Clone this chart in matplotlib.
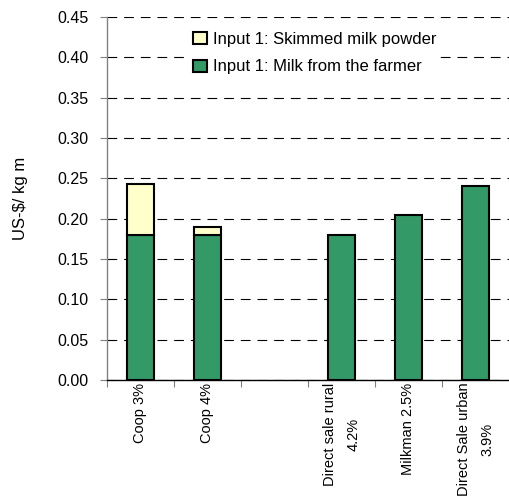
#!/usr/bin/env python3

import numpy as np
import matplotlib
matplotlib.use("Agg")
import matplotlib.pyplot as plt

# data
categories = ["Coop 3%", "Coop 4%", "", "Direct sale rural\n4.2%",
              "Milkman 2.5%", "Direct Sale urban\n3.9%"]
milk_farmer = [0.180, 0.180, 0.0, 0.180, 0.204, 0.240]
milk_powder = [0.063, 0.010, 0.0, 0.0, 0.0, 0.0]
yticks = [0.00, 0.05, 0.10, 0.15, 0.20, 0.25, 0.30, 0.35, 0.40, 0.45]

plt.rcParams['font.family'] = ['Liberation Sans', 'DejaVu Sans']
plt.rcParams['lines.scale_dashes'] = False

fig = plt.figure(figsize=(5.09, 5.01), dpi=100)
ax = fig.add_axes([0.210, 0.2415, 0.790, 0.7245])

x = np.arange(len(categories))
has_bar = np.array(milk_farmer) > 0
green = ax.bar(x[has_bar], np.array(milk_farmer)[has_bar], width=0.4,
               color="#339966", edgecolor="black", linewidth=1.5,
               label="Input 1: Milk from the farmer", zorder=3)
has_pw = np.array(milk_powder) > 0
yellow = ax.bar(x[has_pw], np.array(milk_powder)[has_pw], width=0.4,
                bottom=np.array(milk_farmer)[has_pw],
                color="#FFFFCC", edgecolor="black", linewidth=1.5,
                label="Input 1: Skimmed milk powder", zorder=3)

ax.set_xlim(-0.5, len(categories) - 0.5)
ax.set_ylim(0, 0.45)
ax.set_yticks(yticks)
ax.set_yticklabels(["%.2f" % v for v in yticks], fontsize=11.5)
ax.yaxis.grid(True, color="black", linewidth=0.8, linestyle=(0, (7, 5)))
ax.set_axisbelow(True)
ax.tick_params(axis="y", length=5, width=0.8, color="#808080", pad=8)

ax.set_xticks(x)
ax.set_xticklabels(categories, rotation=90, fontsize=10.5, va="top",
                   ha="center", linespacing=1.9)
ax.tick_params(axis="x", which="major", length=0, pad=2)
ax.set_xticks(np.arange(len(categories)) - 0.5, minor=True)
ax.tick_params(axis="x", which="minor", length=5, width=0.8,
               color="#808080")

for s in ["top", "right"]:
    ax.spines[s].set_visible(False)
ax.spines["left"].set_color("#808080")
ax.spines["left"].set_linewidth(1.0)
ax.spines["bottom"].set_color("black")
ax.spines["bottom"].set_linewidth(1.0)
ax.spines["bottom"].set_zorder(4)

ax.set_ylabel("US-$/ kg m", fontsize=12)
ax.yaxis.set_label_coords(-0.195, 0.5)

leg = ax.legend(handles=[yellow, green], loc="upper left",
                bbox_to_anchor=(0.205, 0.968), frameon=True,
                fontsize=12, handlelength=0.85, handleheight=0.75,
                handletextpad=0.35, labelspacing=0.75, borderaxespad=0,
                borderpad=0.2)
leg.get_frame().set_facecolor("white")
leg.get_frame().set_edgecolor("none")
leg.get_frame().set_alpha(1)

fig.savefig("out.png", dpi=100)
